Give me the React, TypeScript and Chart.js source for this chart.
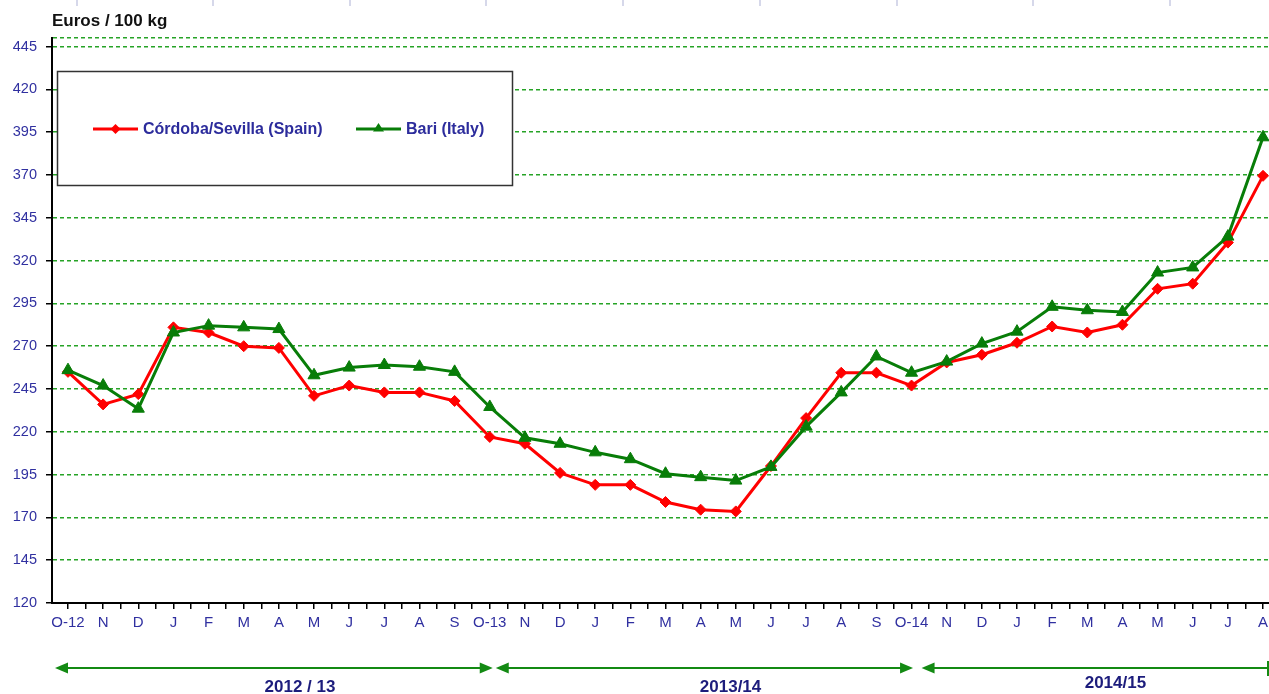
import { useEffect, useRef } from 'react';
import { Chart, registerables } from 'chart.js';

Chart.register(...registerables);

const MONTHS = ['O-12', 'N', 'D', 'J', 'F', 'M', 'A', 'M', 'J', 'J', 'A', 'S',
  'O-13', 'N', 'D', 'J', 'F', 'M', 'A', 'M', 'J', 'J', 'A', 'S',
  'O-14', 'N', 'D', 'J', 'F', 'M', 'A', 'M', 'J', 'J', 'A'];

const CORDOBA = [255, 236, 242, 281, 278, 270, 269, 241, 247, 243, 243, 238,
  217, 213, 196, 189, 189, 179, 174.5, 173.5, 200, 228, 254.5, 254.5,
  247, 260.5, 265, 272, 281.5, 278, 282.5, 303.5, 306.5, 330.5, 369.5];

const BARI = [256, 247, 233.5, 278, 282, 281, 280, 253, 257.5, 259, 258, 255,
  234.5, 216.5, 213, 208, 204, 195.5, 193.5, 191.5, 199.5, 223, 243, 264,
  254.5, 261, 271.5, 278.5, 293, 291, 290, 313, 316, 334, 392];

const Y_TICKS = [120, 145, 170, 195, 220, 245, 270, 295, 320, 345, 370, 395, 420, 445];
const Y_MIN = 120;
const Y_MAX = 450;

const SERIES_NAMES = ['Córdoba/Sevilla (Spain)', 'Bari (Italy)'];
const SEASONS = ['2012 / 13', '2013/14', '2014/15'];
const TITLE = 'Euros / 100 kg';

const FONT = '"Liberation Sans", Arial, sans-serif';
const LABEL_BLUE = '#3030a0';
const RED = '#ff0000';
const GREEN = '#087d08';
const GRID_GREEN = '#26a326';

function drawArrow(ctx: CanvasRenderingContext2D, x1: number, x2: number, y: number, rightHead: boolean, endBar: boolean) {
  const hl = 13;
  const hw = 5.5;
  ctx.strokeStyle = '#138a13';
  ctx.fillStyle = '#138a13';
  ctx.lineWidth = 2;
  ctx.beginPath();
  ctx.moveTo(x1 + hl - 2, y);
  ctx.lineTo(rightHead ? x2 - hl + 2 : x2, y);
  ctx.stroke();
  ctx.beginPath();
  ctx.moveTo(x1, y);
  ctx.lineTo(x1 + hl, y - hw);
  ctx.lineTo(x1 + hl, y + hw);
  ctx.closePath();
  ctx.fill();
  if (rightHead) {
    ctx.beginPath();
    ctx.moveTo(x2, y);
    ctx.lineTo(x2 - hl, y - hw);
    ctx.lineTo(x2 - hl, y + hw);
    ctx.closePath();
    ctx.fill();
  }
  if (endBar) {
    ctx.beginPath();
    ctx.moveTo(x2, y - 7);
    ctx.lineTo(x2, y + 8);
    ctx.stroke();
  }
}

const decorPlugin = {
  id: 'decor',
  afterDraw(chart: any) {
    const { ctx, chartArea, scales } = chart;
    const xs = scales.x;
    const px = (v: number) => xs.getPixelForValue(v);
    ctx.save();

    ctx.strokeStyle = '#d6d8ea';
    ctx.lineWidth = 2;
    [77, 213, 350, 486, 623, 760, 897, 1033, 1170].forEach((x) => {
      ctx.beginPath();
      ctx.moveTo(x, 0);
      ctx.lineTo(x, 6);
      ctx.stroke();
    });

    ctx.fillStyle = '#111';
    ctx.font = `bold 17px ${FONT}`;
    ctx.textAlign = 'left';
    ctx.textBaseline = 'middle';
    ctx.fillText(TITLE, 52, 21);

    ctx.fillStyle = '#fff';
    ctx.fillRect(57.5, 71.5, 455, 114);
    ctx.strokeStyle = '#333';
    ctx.lineWidth = 1.5;
    ctx.strokeRect(57.5, 71.5, 455, 114);

    ctx.strokeStyle = RED;
    ctx.fillStyle = RED;
    ctx.lineWidth = 3;
    ctx.beginPath();
    ctx.moveTo(93, 129);
    ctx.lineTo(138, 129);
    ctx.stroke();
    ctx.beginPath();
    ctx.moveTo(115.5, 124);
    ctx.lineTo(120.5, 129);
    ctx.lineTo(115.5, 134);
    ctx.lineTo(110.5, 129);
    ctx.closePath();
    ctx.fill();

    ctx.strokeStyle = GREEN;
    ctx.fillStyle = GREEN;
    ctx.beginPath();
    ctx.moveTo(356, 129);
    ctx.lineTo(401, 129);
    ctx.stroke();
    ctx.beginPath();
    ctx.moveTo(378.5, 123);
    ctx.lineTo(384, 131.5);
    ctx.lineTo(373, 131.5);
    ctx.closePath();
    ctx.fill();

    ctx.fillStyle = '#2c2c9c';
    ctx.font = `bold 16px ${FONT}`;
    ctx.textBaseline = 'middle';
    ctx.fillText(SERIES_NAMES[0], 143, 130);
    ctx.fillText(SERIES_NAMES[1], 406, 130);

    const ay = 668;
    drawArrow(ctx, px(0) - 13, px(12) + 3, ay, true, false);
    drawArrow(ctx, px(12) + 6, px(24) + 1.5, ay, true, false);
    drawArrow(ctx, px(24) + 10, chartArea.right - 1, ay, false, true);

    ctx.fillStyle = '#1c1c7c';
    ctx.font = `bold 17px ${FONT}`;
    ctx.textAlign = 'center';
    ctx.fillText(SEASONS[0], px(6.6), 687);
    ctx.fillText(SEASONS[1], px(18.85), 687);
    ctx.fillText(SEASONS[2], px(29.8), 683);

    ctx.restore();
  },
};

export default function App() {
  const ref = useRef<HTMLCanvasElement | null>(null);

  useEffect(() => {
    if (!ref.current) return;
    const chart = new Chart(ref.current, {
      type: 'line',
      data: {
        datasets: [
          {
            label: SERIES_NAMES[0],
            data: CORDOBA.map((y, i) => ({ x: i, y })),
            borderColor: RED,
            backgroundColor: RED,
            borderWidth: 3,
            pointStyle: 'rectRot',
            pointRadius: 5.5,
            pointBorderWidth: 1,
            tension: 0,
            order: 1,
          },
          {
            label: SERIES_NAMES[1],
            data: BARI.map((y, i) => ({ x: i, y })),
            borderColor: GREEN,
            backgroundColor: GREEN,
            borderWidth: 3,
            pointStyle: 'triangle',
            pointRadius: 7,
            pointBorderWidth: 1,
            tension: 0,
            order: 0,
          },
        ],
      },
      options: {
        animation: false,
        responsive: false,
        devicePixelRatio: 1,
        layout: { autoPadding: false, padding: { top: 38, left: 0, right: 0, bottom: 0 } },
        plugins: {
          legend: { display: false },
          tooltip: { enabled: false },
          title: { display: false },
        },
        scales: {
          x: {
            type: 'linear',
            min: -0.455,
            max: 34.17,
            bounds: 'data',
            offset: false,
            afterBuildTicks: (s: any) => {
              const t = [];
              for (let k = 0; k <= (MONTHS.length - 1) * 2; k++) t.push({ value: k / 2 });
              s.ticks = t;
            },
            ticks: {
              autoSkip: false,
              maxRotation: 0,
              minRotation: 0,
              padding: 5,
              color: LABEL_BLUE,
              font: { family: FONT, size: 15 },
              callback: (v: any) => (Number.isInteger(v) ? MONTHS[v] : ''),
            },
            grid: {
              drawOnChartArea: false,
              drawTicks: true,
              tickLength: 6,
              color: '#000',
              lineWidth: 1.5,
            },
            border: { display: true, color: '#000', width: 2 },
            afterFit: (s: any) => {
              s.height = 91;
              s.paddingLeft = 0;
              s.paddingRight = 0;
            },
          },
          y: {
            type: 'linear',
            min: Y_MIN,
            max: Y_MAX,
            bounds: 'data',
            afterBuildTicks: (s: any) => {
              s.ticks = [...Y_TICKS, Y_MAX].map((v) => ({ value: v }));
            },
            ticks: {
              autoSkip: false,
              padding: 9,
              color: LABEL_BLUE,
              font: { family: FONT, size: 14.5 },
              callback: (v: any) => (Y_TICKS.includes(v) ? String(v) : ''),
            },
            grid: {
              drawTicks: true,
              tickLength: 6,
              lineWidth: 1.5,
              color: (c: any) => (c.tick && c.tick.value === Y_MIN ? 'rgba(0,0,0,0)' : GRID_GREEN),
              tickColor: (c: any) => (c.tick && c.tick.value === Y_MAX ? 'rgba(0,0,0,0)' : '#000'),
              tickWidth: 1.5,
            },
            border: { display: true, color: '#000', width: 2, dash: [4, 3] },
            afterFit: (s: any) => {
              s.width = 52;
              s.paddingTop = 0;
              s.paddingBottom = 0;
            },
          },
        },
      },
      plugins: [decorPlugin],
    } as any);
    return () => chart.destroy();
  }, []);

  return (
    <div style={{ position: 'fixed', left: 0, top: 0, width: 1269, height: 694, background: '#fff' }}>
      <canvas ref={ref} width={1269} height={694} style={{ display: 'block' }} />
    </div>
  );
}
